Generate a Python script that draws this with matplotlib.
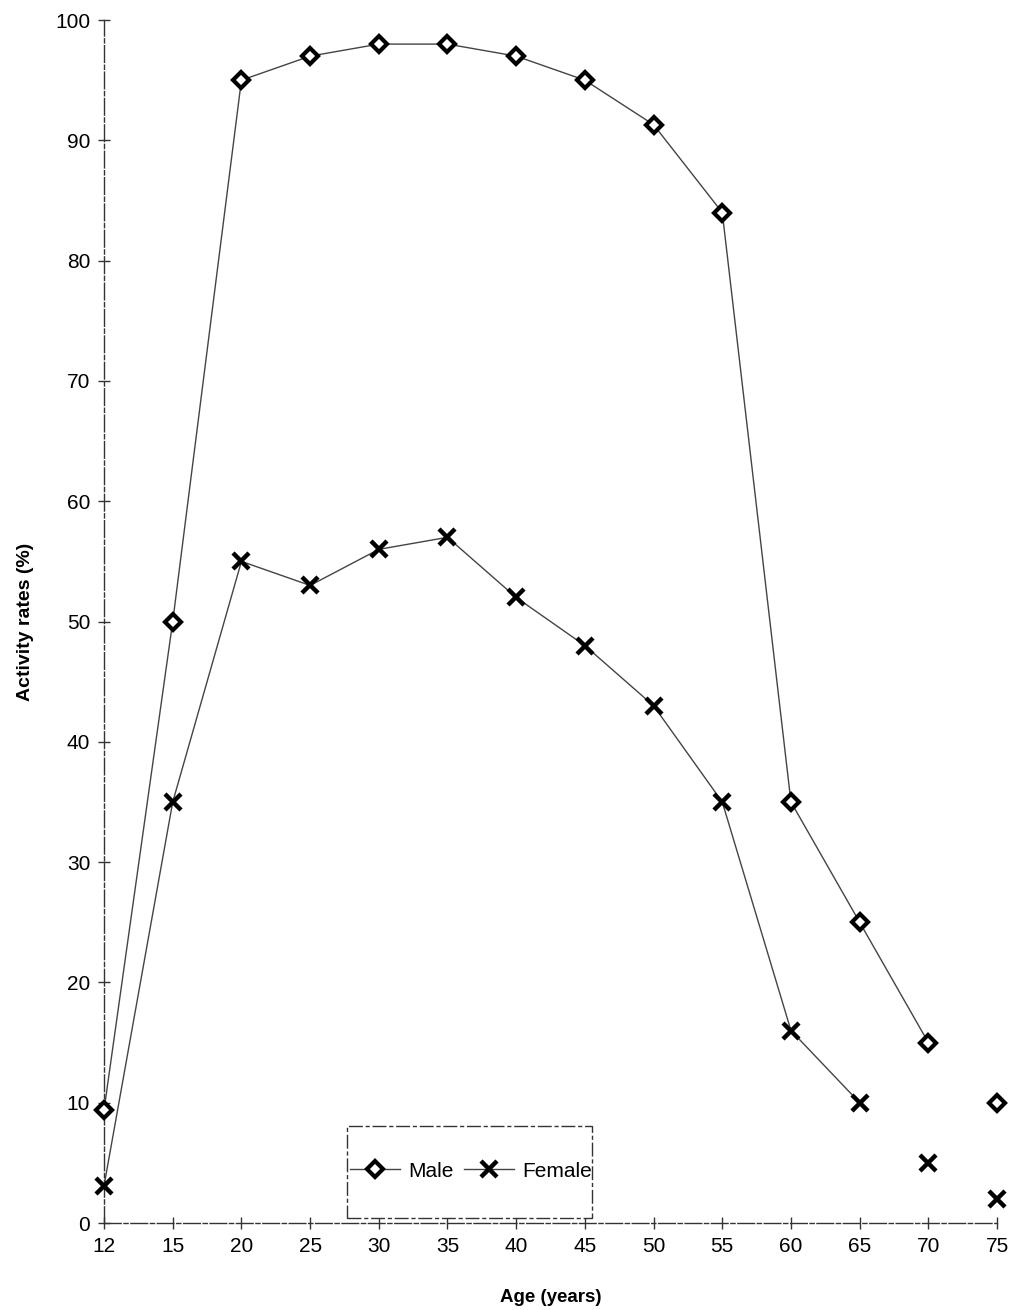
import matplotlib
matplotlib.use("Agg")
import matplotlib.pyplot as plt
from matplotlib.lines import Line2D
from matplotlib.patches import Rectangle

ages = ["12", "15", "20", "25", "30", "35", "40", "45", "50", "55", "60", "65", "70", "75"]
male = [9.4, 50, 95, 97, 98, 98, 97, 95, 91.3, 84, 35, 25, 15, 10]
female = [3.1, 35, 55, 53, 56, 57, 52, 48, 43, 35, 16, 10, 5, 2]
# number of leading points joined by a line in each series
male_joined = 13
female_joined = 12

plt.rcParams["font.family"] = ["Liberation Sans", "DejaVu Sans"]

fig = plt.figure(figsize=(10.15, 13.10), dpi=100)
ax = fig.add_axes([0.1025, 0.0664, 0.8798, 0.9183])

x = list(range(len(ages)))
line_kw = dict(color="#444444", lw=1.0)
male_mk = dict(marker="D", ms=8.5, mfc="white", mec="black", mew=3.0)
female_mk = dict(marker="x", ms=12, mec="black", mew=3.2)

ax.plot(x[:male_joined], male[:male_joined], **line_kw, zorder=2, clip_on=False)
ax.plot(x[:female_joined], female[:female_joined], **line_kw, zorder=2, clip_on=False)
ax.plot(x, male, ls="none", **male_mk, zorder=3, clip_on=False)
ax.plot(x, female, ls="none", **female_mk, zorder=3, clip_on=False)

ax.set_xlim(0, len(ages) - 1)
ax.set_ylim(0, 100)
ax.set_xticks(x)
ax.set_xticklabels(ages)
ax.set_yticks(range(0, 101, 10))

for side in ("top", "right"):
    ax.spines[side].set_visible(False)
for side in ("left", "bottom"):
    ax.spines[side].set_color("#333333")
    ax.spines[side].set_linewidth(1.0)
    ax.spines[side].set_linestyle((0, (12, 2, 3, 2)))

ax.tick_params(direction="inout", length=8, width=1, colors="#333333", labelsize=15,
               labelcolor="black", pad=6)

ax.set_xlabel("Age (years)", fontsize=13.5, fontweight="bold", labelpad=24)
ax.set_ylabel("Activity rates (%)", fontsize=14, fontweight="bold", labelpad=15)

# legend box drawn as its own dashed frame
box = Rectangle((0.272, 0.004), 0.274, 0.077, transform=ax.transAxes,
                facecolor="white", edgecolor="#333333", lw=1.0,
                linestyle=(0, (10, 2, 3, 2)), zorder=4)
ax.add_patch(box)

handles = [
    Line2D([], [], color="#444444", lw=1.0, **male_mk),
    Line2D([], [], color="#444444", lw=1.0, **female_mk),
]
leg = ax.legend(handles, ["Male", "Female"], ncol=2, loc="center left",
                bbox_to_anchor=(0.2755, 0.0432), fontsize=15, frameon=False,
                handlelength=2.4, handletextpad=0.4, columnspacing=0.5,
                borderpad=0, borderaxespad=0)
leg.set_zorder(5)

fig.savefig("out.png", dpi=100, facecolor="white")
